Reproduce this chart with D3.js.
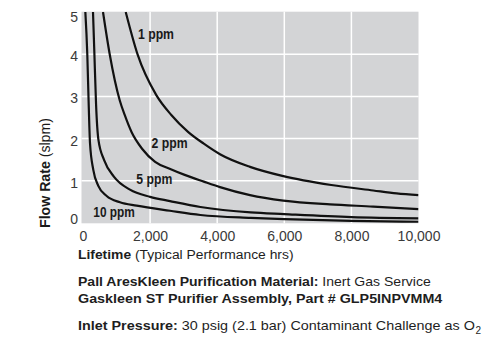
<!DOCTYPE html>
<html>
<head>
<meta charset="UTF-8" />
<title>Flow rate vs lifetime</title>
<script src="https://d3js.org/d3.v7.min.js"></script>
<style>
  body { margin: 0; background: #fff; }
  svg { display: block; font-family: "Liberation Sans", Arial, Helvetica, sans-serif; }
</style>
</head>
<body>
<svg id="chart" width="500" height="351"></svg>
<script>
// [lifetime hrs, flow slpm]
const ppm1 = [[1273,5.0],[1624,4.0],[2185,3.03],[2632,2.56],[3130,2.16],[3600,1.88],[4083,1.63],[4978,1.33],[5970,1.11],[7400,0.90],[8650,0.77],[9350,0.70],[10000,0.66]]
const ppm2 = [[596,5.0],[796,4.0],[1094,2.91],[1243,2.56],[1450,2.15],[1760,1.76],[2150,1.45],[2600,1.28],[3031,1.14],[3600,0.98],[4083,0.85],[4978,0.66],[5970,0.53],[7362,0.44],[8653,0.39],[10000,0.33]]
const ppm5 = [[298,5.0],[340,4.0],[390,2.8],[460,1.97],[630,1.49],[920,1.10],[1400,0.79],[2000,0.62],[2593,0.52],[3500,0.38],[5000,0.25],[6000,0.21],[8000,0.14],[10000,0.11]]
const ppm10 = [[70,5.0],[128,4.0],[170,2.8],[209,1.89],[307,1.26],[456,0.88],[706,0.64],[1103,0.49],[1601,0.41],[2593,0.29],[3500,0.19],[5000,0.12],[6000,0.09],[8000,0.05],[10000,0.03]]

const seriesNames = ["1 ppm", "2 ppm", "5 ppm", "10 ppm"]
const seriesData = [ppm1, ppm2, ppm5, ppm10]
// where each curve label sits, in hrs / slpm
const labelHrs = [1639, 2042, 1589, 307]
const labelFlow = [4.37, 1.77, 0.93, 0.15]

const xTicks = [0, 2000, 4000, 6000, 8000, 10000]
const yTicks = [0, 1, 2, 3, 4, 5]

const svg = d3.select("#chart")

const xScale = d3.scaleLinear().domain([0, 10000]).range([83, 418.5])
const yScale = d3.scaleLinear().domain([0, 5]).range([223, 12])

const plotLeft = 81.5, plotRight = 418.5, plotTop = 11.7, plotBottom = 223.3

// grey panel
svg.append("rect")
  .attr("x", plotLeft).attr("y", plotTop)
  .attr("width", plotRight - plotLeft).attr("height", plotBottom - plotTop)
  .attr("fill", "#d3d4d6")

svg.append("clipPath").attr("id", "plotClip")
  .append("rect")
  .attr("x", plotLeft).attr("y", plotTop)
  .attr("width", plotRight - plotLeft).attr("height", plotBottom - plotTop)

// white grid
const grid = svg.append("g").attr("stroke", "#fff").attr("stroke-width", 1.5)
grid.selectAll(".vg").data(xTicks.slice(1, -1)).join("line")
  .attr("x1", d => xScale(d)).attr("x2", d => xScale(d))
  .attr("y1", plotTop).attr("y2", plotBottom)
grid.selectAll(".hg").data(yTicks.slice(1, -1)).join("line")
  .attr("y1", d => yScale(d)).attr("y2", d => yScale(d))
  .attr("x1", plotLeft).attr("x2", plotRight)

// curves
const line = d3.line()
  .x(d => xScale(d[0]))
  .y(d => yScale(d[1]))
  .curve(d3.curveMonotoneX)

svg.append("g").attr("clip-path", "url(#plotClip)")
  .selectAll("path").data(seriesData).join("path")
  .attr("d", line)
  .attr("fill", "none")
  .attr("stroke", "#111")
  .attr("stroke-width", 2.2)

// curve labels
svg.append("g").selectAll("text").data(seriesNames).join("text")
  .attr("x", (d, i) => xScale(labelHrs[i]))
  .attr("y", (d, i) => yScale(labelFlow[i]))
  .attr("font-size", 14)
  .attr("font-weight", "bold")
  .attr("fill", "#1a1a1a")
  .attr("textLength", d => d.length > 5 ? 41.5 : 36)
  .attr("lengthAdjust", "spacingAndGlyphs")
  .text(d => d)

// axes (labels only)
const xAxis = d3.axisBottom(xScale).tickValues(xTicks).tickSize(0).tickFormat(d3.format(","))
const xg = svg.append("g").attr("transform", "translate(0,228)").call(xAxis)
xg.select(".domain").remove()
xg.selectAll("text").attr("font-size", 14).attr("fill", "#3a3a3a")
  .attr("font-family", "'Liberation Sans', Arial, sans-serif")

const yAxis = d3.axisLeft(yScale).tickValues(yTicks).tickSize(0).tickFormat(d3.format("d"))
const yg = svg.append("g").attr("transform", "translate(78,0)").call(yAxis)
yg.select(".domain").remove()
yg.selectAll(".tick").attr("transform", d => `translate(0,${Math.min(Math.max(yScale(d) + 2.5, 17.5), 220)})`)
yg.selectAll("text").attr("x", 0).attr("font-size", 14).attr("fill", "#3a3a3a")
  .attr("font-family", "'Liberation Sans', Arial, sans-serif")

// stretch a line of text to a measured width
function fitWidth(sel, x, width) {
  const w = sel.node().getComputedTextLength()
  sel.attr("transform", `translate(${x},0) scale(${width / w},1) translate(${-x},0)`)
}

// y title
const yTitleG = svg.append("g").attr("transform", "translate(50,173) rotate(-90)")
const yTitle = yTitleG.append("text")
  .attr("x", 0).attr("y", 0)
  .attr("text-anchor", "middle")
  .attr("font-size", 14)
  .attr("fill", "#1a1a1a")
yTitle.append("tspan").attr("font-weight", "bold").text("Flow Rate")
yTitle.append("tspan").text(" (slpm)")
fitWidth(yTitle, 0, 110)

const notes = [
  { y: 259, width: 215.7, size: 13.5, parts: [["Lifetime", true], [" (Typical Performance hrs)", false]] },
  { y: 286, width: 353, size: 13.5, parts: [["Pall AresKleen Purification Material:", true], [" Inert Gas Service", false]] },
  { y: 303.5, width: 364.7, size: 13.5, parts: [["Gaskleen ST Purifier Assembly, Part # GLP5INPVMM4", true]] },
  { y: 330, width: 397, size: 13.5, parts: [["Inlet Pressure:", true], [" 30 psig (2.1 bar) Contaminant Challenge as O", false]] }
]

notes.forEach((n, i) => {
  const t = svg.append("text")
    .attr("x", 78).attr("y", n.y)
    .attr("font-size", n.size)
    .attr("fill", "#1e1e1e")
  n.parts.forEach(p => {
    t.append("tspan").attr("font-weight", p[1] ? "bold" : "normal").text(p[0])
  })
  fitWidth(t, 78, n.width)
  if (i === 3) {
    // subscript 2 after O
    svg.append("text")
      .attr("x", 78 + n.width + 0.5)
      .attr("y", n.y + 4)
      .attr("font-size", 10)
      .attr("fill", "#1e1e1e")
      .text("2")
  }
})
</script>
</body>
</html>
